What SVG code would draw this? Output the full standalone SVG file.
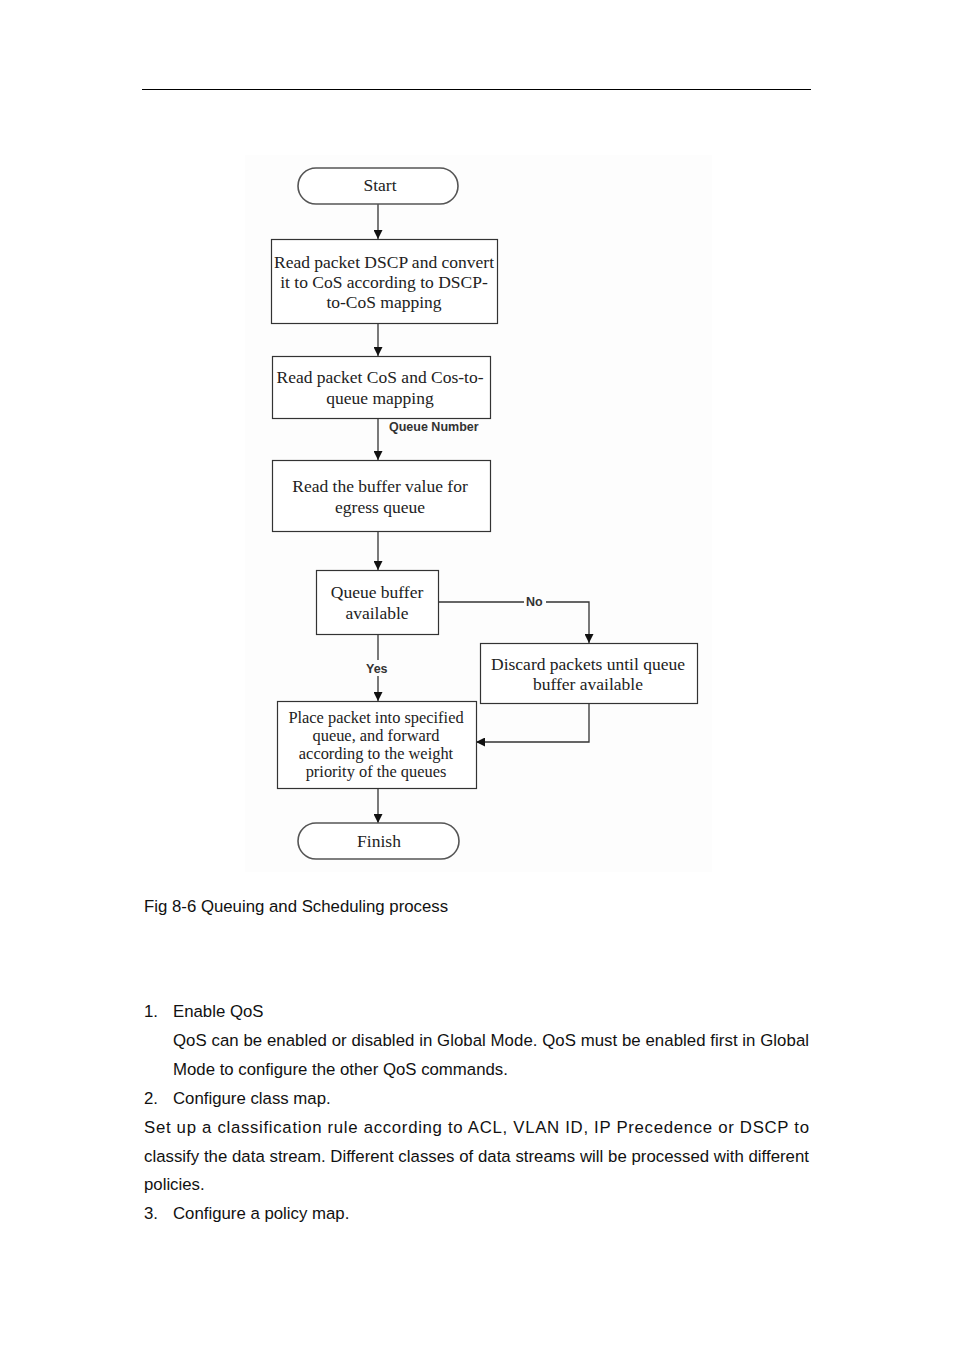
<svg xmlns="http://www.w3.org/2000/svg" width="954" height="1350" viewBox="0 0 954 1350">
<defs>
<marker id="ah" viewBox="0 0 10 10" refX="10" refY="5" markerWidth="10" markerHeight="9" markerUnits="userSpaceOnUse" orient="auto"><path d="M0,0 L10,5 L0,10 z" fill="#111"/></marker>
<style>
.box{fill:#fff;stroke:#333;stroke-width:1.2}
.term{fill:#fff;stroke:#555;stroke-width:1.6}
.t{font-family:"Liberation Serif","Times New Roman",serif;font-size:17.5px;fill:#222;text-anchor:middle}
.ts{font-size:16.4px}
.lbl{font-family:"Liberation Sans",Arial,sans-serif;font-size:12.5px;font-weight:bold;fill:#333}
.c{fill:none;stroke:#333;stroke-width:1.3}
.body{font-family:"Liberation Sans",Arial,sans-serif;font-size:16.8px;fill:#111}
</style>
</defs>
<rect width="954" height="1350" fill="#fff"/>
<line x1="142" y1="89.5" x2="811" y2="89.5" stroke="#000" stroke-width="1"/>
<rect x="245" y="155" width="467" height="717" fill="#fdfdfd"/>
<g id="connectors">
<line class="c" x1="378" y1="204" x2="378" y2="239" marker-end="url(#ah)"/>
<line class="c" x1="378" y1="323" x2="378" y2="356" marker-end="url(#ah)"/>
<line class="c" x1="378" y1="418" x2="378" y2="460" marker-end="url(#ah)"/>
<line class="c" x1="378" y1="531" x2="378" y2="570" marker-end="url(#ah)"/>
<line class="c" x1="378" y1="634" x2="378" y2="660"/>
<line class="c" x1="378" y1="676" x2="378" y2="701" marker-end="url(#ah)"/>
<line class="c" x1="378" y1="788" x2="378" y2="823" marker-end="url(#ah)"/>
<polyline class="c" points="438,602 524,602"/>
<polyline class="c" points="546,602 589,602 589,643" marker-end="url(#ah)"/>
<polyline class="c" points="589,703 589,742 476,742" marker-end="url(#ah)"/>
<text class="lbl" x="389" y="431">Queue Number</text>
<text class="lbl" x="526" y="606">No</text>
<text class="lbl" x="366" y="673">Yes</text>
</g>
<g id="start"><rect class="term" x="298" y="168" width="160" height="36" rx="18"/><text class="t" x="380" y="191">Start</text></g>
<g id="dscp"><rect class="box" x="271.5" y="239.5" width="226" height="84"/>
<text class="t" x="384" y="268">Read packet DSCP and convert</text>
<text class="t" x="384" y="288">it to CoS according to DSCP-</text>
<text class="t" x="384" y="308">to-CoS mapping</text></g>
<g id="cos"><rect class="box" x="272.5" y="356.5" width="218" height="62"/>
<text class="t" x="380" y="383">Read packet CoS and Cos-to-</text>
<text class="t" x="380" y="404">queue mapping</text></g>
<g id="buffer"><rect class="box" x="272.5" y="460.5" width="218" height="71"/>
<text class="t" x="380" y="492">Read the buffer value for</text>
<text class="t" x="380" y="513">egress queue</text></g>
<g id="avail"><rect class="box" x="316.5" y="570.5" width="122" height="64"/>
<text class="t" x="377" y="598">Queue buffer</text>
<text class="t" x="377" y="619">available</text></g>
<g id="discard"><rect class="box" x="480.5" y="643.5" width="217" height="60"/>
<text class="t" x="588" y="670">Discard packets until queue</text>
<text class="t" x="588" y="690">buffer available</text></g>
<g id="place"><rect class="box" x="277.5" y="701.5" width="199" height="87"/>
<text class="t ts" x="376" y="723">Place packet into specified</text>
<text class="t ts" x="376" y="741">queue, and forward</text>
<text class="t ts" x="376" y="759">according to the weight</text>
<text class="t ts" x="376" y="777">priority of the queues</text></g>
<g id="finish"><rect class="term" x="298" y="823" width="161" height="36" rx="18"/><text class="t" x="379" y="847">Finish</text></g>
<text class="body" x="144" y="912">Fig 8-6 Queuing and Scheduling process</text>
<text class="body" x="144" y="1017">1.</text><text class="body" x="173" y="1017">Enable QoS</text>
<text class="body" x="173" y="1046" textLength="636" lengthAdjust="spacing">QoS can be enabled or disabled in Global Mode. QoS must be enabled first in Global</text>
<text class="body" x="173" y="1075">Mode to configure the other QoS commands.</text>
<text class="body" x="144" y="1104">2.</text><text class="body" x="173" y="1104">Configure class map.</text>
<text class="body" x="144" y="1133" textLength="665" lengthAdjust="spacing">Set up a classification rule according to ACL, VLAN ID, IP Precedence or DSCP to</text>
<text class="body" x="144" y="1162" textLength="665" lengthAdjust="spacing">classify the data stream. Different classes of data streams will be processed with different</text>
<text class="body" x="144" y="1190">policies.</text>
<text class="body" x="144" y="1219">3.</text><text class="body" x="173" y="1219">Configure a policy map.</text>
</svg>
